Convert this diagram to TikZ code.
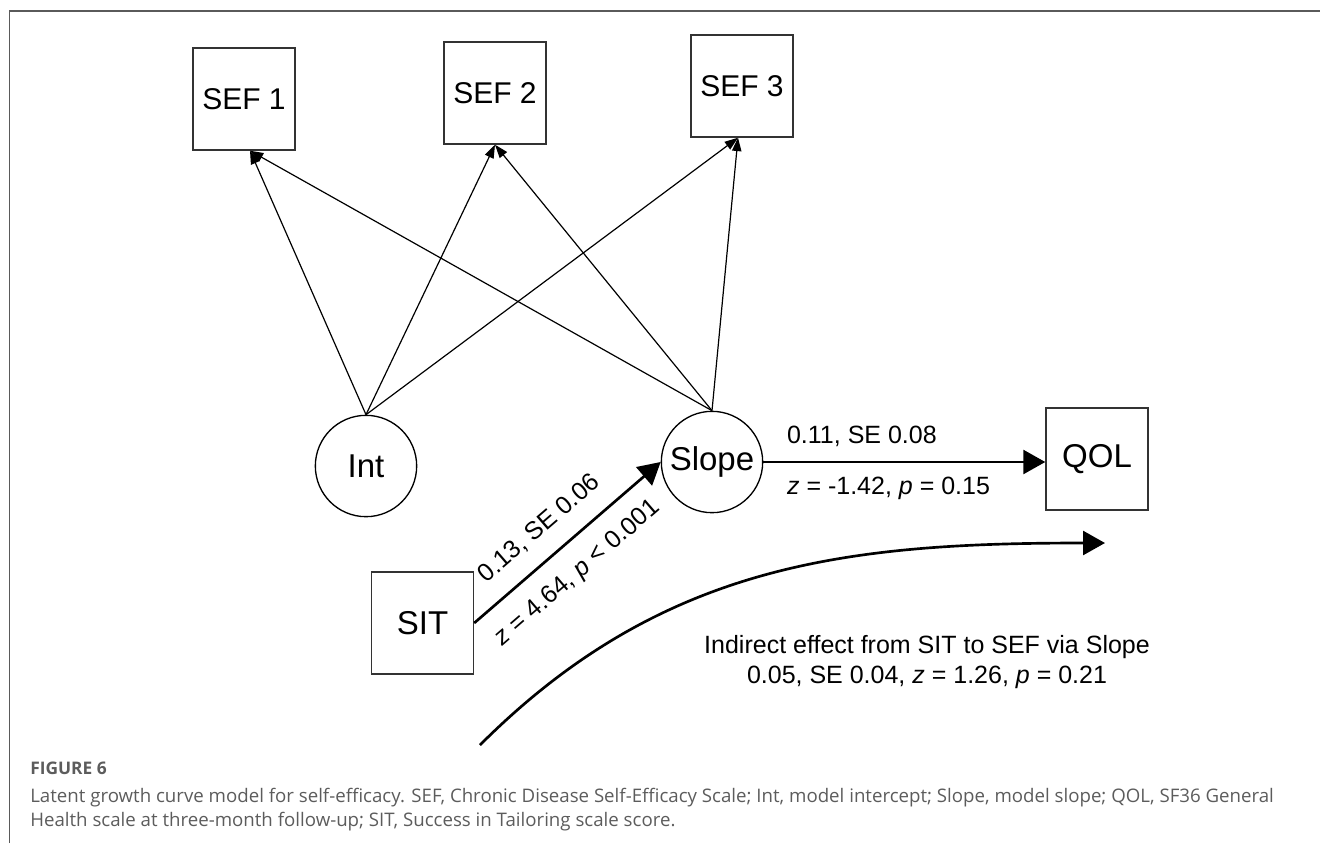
\documentclass[tikz,border=0pt]{standalone}
\usepackage{fontspec}
\setmainfont{Liberation Sans}
\newfontfamily\capfont{Open Sans}
\usetikzlibrary{arrows.meta}
\definecolor{framegray}{HTML}{5A5A5A}
\definecolor{capgray}{HTML}{5C5C5C}

\begin{document}
\begin{tikzpicture}
        [x=0.75pt, y=-0.75pt,
        obs/.style={rectangle, draw=black!80, line width=1.1pt, fill=white,
          minimum size=76.5pt, inner sep=0pt, font=\fontsize{22.5}{26}\selectfont},
        latent/.style={circle, draw=black, line width=1pt, fill=white,
          minimum size=76pt, inner sep=0pt, font=\fontsize{24.75}{28}\selectfont},
        load/.style={-{Triangle[length=10pt, width=7pt]}, line width=0.9pt},
        arr/.style={-{Triangle[length=16.5pt, width=18pt]}, line width=2pt},
        est/.style={font=\fontsize{18.75}{22.5}\selectfont, inner sep=2pt},
        captext/.style={anchor=west, inner sep=0pt, text=capgray,
          font=\capfont\fontsize{14}{16}\selectfont}]
        \useasboundingbox (0,0) rectangle (1320,843);
        % frame of the figure panel
        \draw[framegray, line width=1.1pt] (9.5,843) -- (9.5,11) -- (1320,11);
        \node (SEF1) at (244, 99) [obs] {SEF 1};
        \node (SEF2) at (495, 93) [obs] {SEF 2};
        \node (SEF3) at (742, 86) [obs] {SEF 3};
        \node (Int) at (366, 466) [latent] {Int};
        \node (Slope) at (712, 462) [latent] {Slope};
        \node (QOL) at (1097, 459) [obs, font=\fontsize{24.75}{28}\selectfont] {QOL};
        \node (SIT) at (422.5, 623) [obs, font=\fontsize{24.75}{28}\selectfont] {SIT};
        % growth loadings
        \path (Int.north) edge[load] ([xshift=4.5pt]SEF1.south)
                          edge[load] (SEF2.south)
                          edge[load] ([xshift=-3pt]SEF3.south);
        \path (Slope.north) edge[load] ([xshift=4.5pt]SEF1.south)
                            edge[load] (SEF2.south)
                            edge[load] ([xshift=-3pt]SEF3.south);
        % structural paths
        \path (SIT.east) edge[arr]
            node[est, sloped, pos=0.45, above, outer sep=12pt] {0.13, SE 0.06}
            node[est, sloped, pos=0.45, below, outer sep=12pt] {\textit{z} = 4.64, \textit{p} < 0.001}
            (Slope.west);
        \path (Slope.east) edge[arr]
            node[est, pos=0.07, anchor=south west, yshift=8.5pt] {0.11, SE 0.08}
            node[est, pos=0.07, anchor=north west, yshift=-8.5pt] {\textit{z} = -1.42, \textit{p} = 0.15}
            (Slope.east -| QOL.west);
        % indirect effect
        \coordinate (from) at (480, 745);
        \coordinate (to) at (1105, 543);
        \draw[arr] (from) .. controls (662, 563) and (848, 543) .. (to);
        \node (ind) at (927, 662) [est, align=center]
          {Indirect effect from SIT to SEF via Slope\\0.05, SE 0.04, \textit{z} = 1.26, \textit{p} = 0.21};
        % caption
        \node (fig) at (30, 768) [captext, font=\capfont\bfseries\fontsize{13}{15}\selectfont] {FIGURE 6};
        \node (capA) at (30, 798) [captext] {Latent growth curve model for self-efficacy. SEF, Chronic Disease Self-Efficacy Scale; Int, model intercept; Slope, model slope; QOL, SF36 General};
        \node (capB) at (30, 822) [captext] {Health scale at three-month follow-up; SIT, Success in Tailoring scale score.};
\end{tikzpicture}
\end{document}
